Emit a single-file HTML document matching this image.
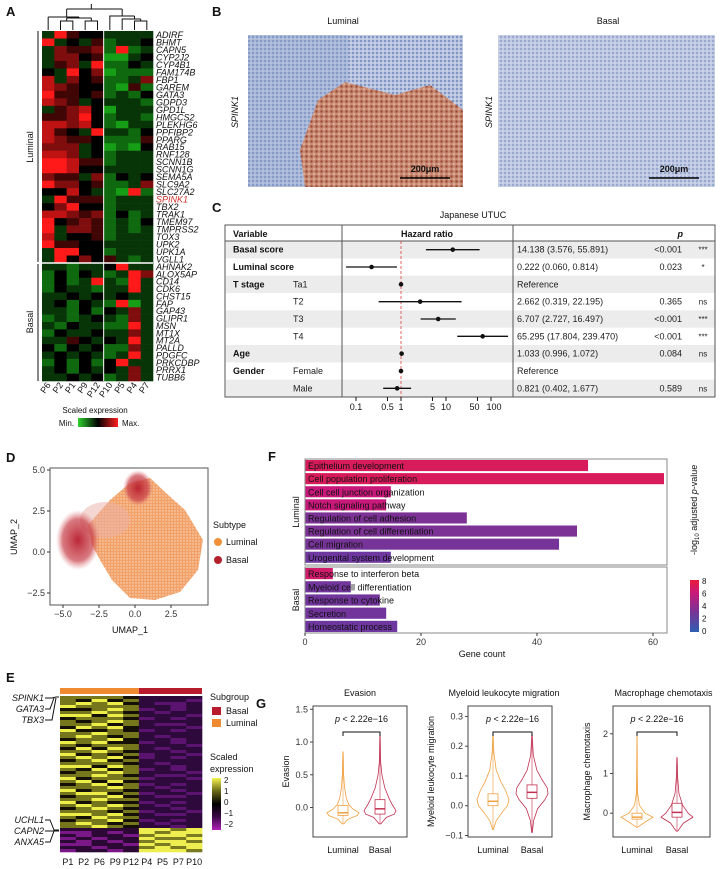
<!DOCTYPE html>
<html><head><meta charset="utf-8"><style>
body{margin:0;background:#fff}
svg{display:block;font-family:"Liberation Sans",Arial,sans-serif}
</style></head><body>
<svg id="fig" width="725" height="869" viewBox="0 0 725 869" xmlns="http://www.w3.org/2000/svg">
<defs>
<pattern id="dots" width="3" height="3" patternUnits="userSpaceOnUse"><circle cx="1" cy="1" r="0.7" fill="#fff" opacity="0.6"/></pattern>
<pattern id="tissue" width="4" height="4" patternUnits="userSpaceOnUse"><rect width="4" height="4" fill="#b8c4de"/><circle cx="1" cy="1" r="1" fill="#6f86bd"/><circle cx="3" cy="3" r="0.8" fill="#d8def0"/></pattern>
<pattern id="brown" width="5" height="5" patternUnits="userSpaceOnUse"><rect width="5" height="5" fill="#c98a72"/><circle cx="1.5" cy="1.5" r="1.2" fill="#9a4a38"/><circle cx="4" cy="4" r="0.8" fill="#ecd2c4"/></pattern>
<linearGradient id="gA" x1="0" x2="1"><stop offset="0" stop-color="#2fd12f"/><stop offset="0.5" stop-color="#000"/><stop offset="1" stop-color="#ff2020"/></linearGradient>
<linearGradient id="gF" x1="0" y1="1" x2="0" y2="0"><stop offset="0" stop-color="#2f5fb0"/><stop offset="0.4" stop-color="#7b3294"/><stop offset="0.75" stop-color="#c8197a"/><stop offset="1" stop-color="#e81c3a"/></linearGradient>
<linearGradient id="gE" x1="0" y1="1" x2="0" y2="0"><stop offset="0" stop-color="#b020b8"/><stop offset="0.25" stop-color="#3a0a45"/><stop offset="0.5" stop-color="#000"/><stop offset="0.75" stop-color="#6a6a18"/><stop offset="1" stop-color="#f4f450"/></linearGradient>
<radialGradient id="gRed" ><stop offset="0" stop-color="#b81c2c" stop-opacity="0.95"/><stop offset="0.7" stop-color="#c8404a" stop-opacity="0.7"/><stop offset="1" stop-color="#e08080" stop-opacity="0"/></radialGradient>
</defs>
<g id="root"></g>
</svg>
<script>
// ---------- DATA ----------
const aColumns=["P6","P2","P1","P9","P12","P10","P5","P4","P7"];
const aGenesLum=["ADIRF","BHMT","CAPN5","CYP2J2","CYP4B1","FAM174B","FBP1","GAREM","GATA3","GDPD3","GPD1L","HMGCS2","PLEKHG6","PPFIBP2","PPARG","RAB15","RNF128","SCNN1B","SCNN1G","SEMA5A","SLC9A2","SLC27A2","SPINK1","TBX2","TRAK1","TMEM97","TMPRSS2","TOX3","UPK2","UPK1A","VGLL1"];
const aGenesBas=["AHNAK2","ALOX5AP","CD14","CDK6","CHST15","FAP","GAP43","GLIPR1","MSN","MT1X","MT2A","PALLD","PDGFC","PRKCDBP","PRRX1","TUBB6"];
const aValsLum=["385443333","834352334","365562823","366451134","356382243","438461222","736452236","765442152","855452324","765343332","356741333","556842332","776742133","754383324","765542225","666341214","776342333","887552333","887443333","655362434","866452236","447432182","385552333","468442333","776562423","845652324","836652323","734452333","855443333","388442333","384645323"];
const aValsBas=["332334833","242432386","242383283","243323383","334343433","342432813","332424363","232343263","324332283","243343363","335434383","424342263","343432383","242424833","342434363","334342363"];
const eColumns=["P1","P2","P6","P9","P12","P4","P5","P7","P10"];
const eVals=["333321111","324231110","343421001","433331101","223430101","334321011","442431110","233320101","323431111","334231001","243421110","422320101","334331111","343231011","233421101","434220101","323331110","242431011","334321101","423230110","343420101","234231111","333321011","442431101","324230101","233431110","334321001","423330110","342421111","234230101","333431011","423321101","344230110","233421001","334331111","423220101","343431011","234321101","333230110","443421001","324331111","233420101","343231011","334321101","111114434","001014344","101103443","010114334","101013443","001104344","110113434","011014443"];
const umapXTicks=[-5.0,-2.5,0.0,2.5];
const umapYTicks=[5.0,2.5,0.0,-2.5];
const fLabels=["Epithelium development","Cell population proliferation","Cell cell junction organization","Notch signaling pathway","Regulation of cell adhesion","Regulation of cell differentiation","Cell migration","Urogenital system development","Response to interferon beta","Myeloid cell differentiation","Response to cytokine","Secretion","Homeostatic process"];
const fCounts=[48.8,61.9,14.8,14,27.9,46.9,43.8,14.8,4.8,7.9,12.9,14,15.9];
const fLogP=[7,7,6,6,4.5,4.5,4,3,6.5,3.5,3.5,3.5,3];
const fTicks=[0,20,40,60];
const cVars=["Basal score","Luminal score","T stage","","","","Age","Gender",""];
const cSub=["","","Ta1","T2","T3","T4","","Female","Male"];
const cHR=[14.138,0.222,1,2.662,6.707,65.295,1.033,1,0.821];
const cLo=[3.576,0.060,null,0.319,2.727,17.804,0.996,null,0.402];
const cHi=[55.891,0.814,null,22.195,16.497,239.470,1.072,null,1.677];
const cText=["14.138 (3.576, 55.891)","0.222 (0.060, 0.814)","Reference","2.662 (0.319, 22.195)","6.707 (2.727, 16.497)","65.295 (17.804, 239.470)","1.033 (0.996, 1.072)","Reference","0.821 (0.402, 1.677)"];
const cP=["<0.001","0.023","","0.365","<0.001","<0.001","0.084","","0.589"];
const cSig=["***","*","","ns","***","***","ns","","ns"];
const cTicks=[0.1,0.5,1,5,10,50,100];
const cTickLabels=["0.1","0.5","1","5","10","50","100"];
const gTitles=["Evasion","Myeloid leukocyte migration","Macrophage chemotaxis"];
const gTicks=[[0.0,0.5,1.0,1.5],[-0.1,0.0,0.1,0.2,0.3],[0,1,2]];
const gTickLabels=[["0.0","0.5","1.0","1.5"],["-0.1","0.0","0.1","0.2","0.3"],["0","1","2"]];
const gLumVals=[[-0.25,-0.18,-0.12,-0.08,-0.02,0.05,0.15,0.3,0.5,0.85],[-0.08,-0.05,-0.02,0,0.02,0.05,0.08,0.12,0.18,0.24],[-0.35,-0.2,-0.1,0,0.2,0.5,1,2]];
const gLumDens=[[0.05,0.3,0.9,1.0,0.6,0.35,0.2,0.1,0.04,0.01],[0.02,0.2,0.6,0.9,1.0,0.8,0.5,0.2,0.05,0.01],[0.05,0.6,1.0,0.5,0.15,0.04,0.02,0.005]];
const gBasVals=[[-0.25,-0.15,-0.1,-0.05,0.05,0.15,0.3,0.5,0.7,1.1],[-0.09,-0.05,-0.01,0.02,0.04,0.06,0.09,0.12,0.17,0.24],[-0.45,-0.25,-0.1,0,0.2,0.5,0.9,1.4]];
const gBasDens=[[0.05,0.4,0.9,1.0,0.75,0.55,0.3,0.12,0.04,0.01],[0.02,0.1,0.35,0.8,1.0,0.95,0.6,0.3,0.08,0.01],[0.05,0.4,1.0,0.7,0.35,0.12,0.04,0.01]];
const gLumBox=[[-0.12,-0.08,0.03],[0.0,0.015,0.04],[-0.15,-0.1,0.0]];
const gBasBox=[[-0.1,-0.02,0.12],[0.025,0.045,0.07],[-0.1,0.02,0.25]];

// ---------- HELPERS ----------
const NS="http://www.w3.org/2000/svg";
const root=document.getElementById('root');
function mk(tag,attrs,parent,txt){const e=document.createElementNS(NS,tag);for(const k in attrs)e.setAttribute(k,attrs[k]);if(txt!==undefined)e.textContent=txt;(parent||root).appendChild(e);return e;}
function txt(x,y,s,size,opt,parent){opt=opt||{};const a={x:x,y:y,'font-size':size,fill:opt.fill||'#111'};if(opt.anchor)a['text-anchor']=opt.anchor;if(opt.weight)a['font-weight']=opt.weight;if(opt.style)a['font-style']=opt.style;if(opt.rot!==undefined)a.transform='rotate('+opt.rot+' '+x+' '+y+')';const t=mk('text',a,parent,s);return t;}

[["A",6,16],["B",212,16],["C",212,212],["D",6,462],["F",268,461],["E",6,682],["G",256,708]].forEach(p=>{const t=txt(p[1],p[2],p[0],13,{weight:'bold'});});

// ---------- PANEL A ----------
const gA=mk('g',{});


const aX0=42,aX1=153,aY0=31,aYmid=263,aY1=381;
const aColW=(aX1-aX0)/aColumns.length;
function aColor(d){const v=(d-4)/4;if(v<0){const g=Math.round(-v*210);return 'rgb('+Math.round(-v*30)+','+g+','+Math.round(-v*30)+')';}const r=Math.round(v*255);return 'rgb('+r+','+Math.round(v*25)+','+Math.round(v*25)+')';}
function aRows(vals,y0,y1,genes){const h=(y1-y0)/vals.length;vals.forEach((row,i)=>{for(let j=0;j<aColumns.length;j++){const r=mk('rect',{x:aX0+j*aColW,y:y0+i*h,width:aColW+0.3,height:h+0.3,fill:aColor(+row[j])},gA);}
const t=txt(156,y0+i*h+h-0.5,genes[i],9,{style:'italic',fill:genes[i]==="SPINK1"?'#d0332a':'#111'},gA);});}
aRows(aValsLum,aY0,aYmid,aGenesLum);
aRows(aValsBas,aYmid,aY1,aGenesBas);
mk('line',{x1:aX0+5*aColW,x2:aX0+5*aColW,y1:aY0,y2:aY1,stroke:'#fff','stroke-width':1},gA);
mk('line',{x1:aX0,x2:aX1,y1:aYmid,y2:aYmid,stroke:'#fff','stroke-width':1.5},gA);
mk('line',{x1:38,x2:38,y1:aY0,y2:aYmid-1,stroke:'#111'},gA);
mk('line',{x1:38,x2:38,y1:aYmid+1,y2:aY1,stroke:'#111'},gA);
txt(33,147,"Luminal",9,{anchor:'middle',rot:-90},gA);
txt(33,322,"Basal",9,{anchor:'middle',rot:-90},gA);
aColumns.forEach((c,j)=>{const x=aX0+j*aColW+aColW/2+3;const t=txt(x,385,c,9,{anchor:'end',rot:-55},gA);});
const cx=j=>aX0+j*aColW+aColW/2;
const dend=mk('path',{d:`M${cx(0)},30V17 M${cx(0)},17H${(cx(1)+cx(4))/2} M${cx(1)},30V21H${cx(2)}V30 M${(cx(1)+cx(2))/2},21V18 M${cx(3)},30V21H${cx(4)}V30 M${(cx(3)+cx(4))/2},21V18 M${(cx(1)+cx(2))/2},18H${(cx(3)+cx(4))/2} M${(cx(1)+cx(4))/2},18V17 M${(cx(0)+cx(3))/2},17V9 M${cx(5)},30V16H${(cx(6)+cx(8))/2} M${cx(6)},30V19H${(cx(7)+cx(8))/2} M${cx(7)},30V21H${cx(8)}V30 M${(cx(7)+cx(8))/2},21V19 M${(cx(6)+cx(8))/2},19V16 M${(cx(5)+cx(7))/2},16V9 M${(cx(0)+cx(3))/2},9H${(cx(5)+cx(7))/2} M${(cx(0)+cx(7))/2},9V4`,stroke:'#111',fill:'none','stroke-width':1},gA);

txt(95,413,"Scaled expression",8,{anchor:'middle'},gA);
const ab=mk('rect',{x:78,y:418,width:40,height:9,fill:'url(#gA)'},gA);
txt(74,426,"Min.",8,{anchor:'end'},gA);txt(122,426,"Max.",8,{},gA);

// ---------- PANEL B ----------
const gB=mk('g',{});
txt(343,24,"Luminal",9,{anchor:'middle'},gB);txt(608,24,"Basal",9,{anchor:'middle'},gB);
const im1=mk('rect',{x:248,y:35,width:215,height:152,fill:'url(#tissue)'},gB);
mk('rect',{x:248,y:35,width:100,height:152,fill:'#8fa3cf',opacity:0.35},gB);
const br=mk('path',{d:'M318,100 L345,82 L395,95 L430,85 L463,110 L463,187 L305,187 L300,150 Z',fill:'url(#brown)'},gB);
const im2=mk('rect',{x:498,y:35,width:217,height:152,fill:'url(#tissue)'},gB);
mk('rect',{x:498,y:35,width:217,height:152,fill:'#d0d8ec',opacity:0.3},gB);
txt(238,112,"SPINK1",9,{anchor:'middle',style:'italic',rot:-90},gB);txt(492,112,"SPINK1",9,{anchor:'middle',style:'italic',rot:-90},gB);
mk('line',{x1:400,x2:450,y1:178,y2:178,stroke:'#000','stroke-width':1.5},gB);txt(425,172,"200μm",9,{anchor:'middle',weight:'bold'},gB);
mk('line',{x1:649,x2:699,y1:178,y2:178,stroke:'#000','stroke-width':1.5},gB);txt(674,172,"200μm",9,{anchor:'middle',weight:'bold'},gB);

// ---------- PANEL C ----------
const gC=mk('g',{});
txt(473,218,"Japanese UTUC",9,{anchor:'middle'},gC);
const cTop=225,cHead=241,rowH=(397-241)/9;
cVars.forEach((v,i)=>{if(i%2===0)mk('rect',{x:226,y:cHead+i*rowH,width:489,height:rowH,fill:'#ececec'},gC);});
mk('rect',{x:225,y:cTop,width:490,height:172,fill:'none',stroke:'#555','stroke-width':1},gC);
mk('line',{x1:225,x2:715,y1:cHead,y2:cHead,stroke:'#555'},gC);
mk('line',{x1:342,x2:342,y1:cTop,y2:397,stroke:'#555'},gC);
mk('line',{x1:513,x2:513,y1:cTop,y2:397,stroke:'#555'},gC);
txt(233,237,"Variable",9,{weight:'bold'},gC);txt(427,237,"Hazard ratio",9,{weight:'bold',anchor:'middle'},gC);txt(683,237,"p",9,{weight:'bold',style:'italic',anchor:'end'},gC);
const cx0=401,cDec=45;
const xLog=v=>cx0+cDec*Math.log10(v);
mk('line',{x1:xLog(1),x2:xLog(1),y1:cHead,y2:397,stroke:'#e04040','stroke-dasharray':'3,2','stroke-width':0.8},gC);
cVars.forEach((v,i)=>{const y=cHead+i*rowH+rowH/2;
 if(v)txt(233,y+3,v,9,{weight:'bold'},gC);
 if(cSub[i])txt(293,y+3,cSub[i],9,{fill:'#222'},gC);
 if(cLo[i]!==null){const l=mk('line',{x1:xLog(cLo[i]),x2:xLog(cHi[i]),y1:y,y2:y,stroke:'#111','stroke-width':1.3},gC);}
 const p=mk('circle',{cx:xLog(cHR[i]),cy:y,r:2.3,fill:'#111'},gC);
 txt(517,y+3,cText[i],9,{fill:'#222'},gC);
 if(cP[i])txt(682,y+3,cP[i],9,{anchor:'end',fill:'#222'},gC);
 if(cSig[i])txt(703,y+3,cSig[i],8,{anchor:'middle',fill:'#222'},gC);});
cTicks.forEach((t,i)=>{mk('line',{x1:xLog(t),x2:xLog(t),y1:397,y2:401,stroke:'#111'},gC);txt(xLog(t)+(t===50?-3:t===100?3:0),410,cTickLabels[i],9,{anchor:'middle'},gC);});

// ---------- PANEL D ----------
const gD=mk('g',{});
const ux=v=>135+14.4*v, uy=v=>552-16.4*v;
const bodyD='M88,525 L110,500 L130,483 L150,478 L165,492 L185,510 L203,540 L198,570 L180,592 L155,600 L130,598 L112,580 L100,560 L92,545 Z';
const body=mk('path',{d:bodyD,fill:'#f2a268'},gD);

mk('path',{d:bodyD,fill:'url(#dots)'},gD);
mk('ellipse',{cx:105,cy:520,rx:25,ry:18,fill:'#e9b0a8',opacity:0.5},gD);
const r1=mk('ellipse',{cx:78,cy:540,rx:22,ry:30,fill:'url(#gRed)'},gD);
mk('ellipse',{cx:138,cy:488,rx:15,ry:18,fill:'url(#gRed)'},gD);
mk('rect',{x:50,y:468,width:158,height:137,fill:'none',stroke:'#555'},gD);
umapXTicks.forEach(t=>{mk('line',{x1:ux(t),x2:ux(t),y1:605,y2:608,stroke:'#333'},gD);txt(ux(t),617,t.toFixed(1).replace('-','−'),9,{anchor:'middle',fill:'#333'},gD);});
umapYTicks.forEach(t=>{mk('line',{x1:47,x2:50,y1:uy(t),y2:uy(t),stroke:'#333'},gD);txt(45,uy(t)+3,t.toFixed(1).replace('-','−'),9,{anchor:'end',fill:'#333'},gD);});
txt(130,633,"UMAP_1",9,{anchor:'middle'},gD);txt(17,537,"UMAP_2",9,{anchor:'middle',rot:-90},gD);
txt(213,528,"Subtype",9,{},gD);
mk('circle',{cx:218,cy:542,r:4,fill:'#f0913a'},gD);txt(226,545,"Luminal",9,{},gD);
mk('circle',{cx:218,cy:560,r:4,fill:'#b4202c'},gD);txt(226,563,"Basal",9,{},gD);

// ---------- PANEL F ----------
const gF=mk('g',{});
const fx=v=>305+5.8*v;
function fCol(v){const stops=[[0,[47,95,176]],[3,[110,55,160]],[4.5,[123,50,148]],[6,[200,25,122]],[8,[232,28,58]]];for(let i=0;i<stops.length-1;i++){if(v<=stops[i+1][0]){const t=(v-stops[i][0])/(stops[i+1][0]-stops[i][0]);const c=stops[i][1].map((a,k)=>Math.round(a+t*(stops[i+1][1][k]-a)));return 'rgb('+c+')';}}return 'rgb(232,28,58)';}
const fRowH=13.1;
fLabels.forEach((l,i)=>{const y=i<8?459+i*fRowH:567+(i-8)*13.2;const h=i<8?fRowH:13.2;
 const b=mk('rect',{x:fx(0),y:y+1,width:fx(fCounts[i])-fx(0),height:h-2,fill:fCol(fLogP[i])},gF);
 txt(308,y+h-3,l,9,{fill:'#111'},gF);});
mk('rect',{x:305,y:459,width:362,height:106,fill:'none',stroke:'#888'},gF);
mk('rect',{x:305,y:567,width:362,height:66,fill:'none',stroke:'#888'},gF);
fTicks.forEach(t=>{mk('line',{x1:fx(t),x2:fx(t),y1:633,y2:636,stroke:'#333'},gF);txt(fx(t),645,String(t),9,{anchor:'middle',fill:'#333'},gF);});
txt(482,657,"Gene count",9,{anchor:'middle'},gF);
txt(299,512,"Luminal",9,{anchor:'middle',rot:-90},gF);txt(299,600,"Basal",9,{anchor:'middle',rot:-90},gF);
const fcb=mk('rect',{x:690,y:580,width:9,height:52,fill:'url(#gF)'},gF);
[8,6,4,2,0].forEach((v,i)=>txt(702,584+i*12.5,String(v),8,{},gF));
const ft=mk('text',{x:697,y:555,'font-size':9,transform:'rotate(-90 697 555)',fill:'#111'},gF);
ft.innerHTML='-log<tspan font-size="6" dy="2">10</tspan><tspan dy="-2"> adjusted </tspan><tspan font-style="italic">p</tspan>-value';

// ---------- PANEL E ----------
const gE=mk('g',{});
const eX0=60,eX1=202,eY0=696,eRowH=3;
const eColW=(eX1-eX0)/eColumns.length;
const eCols=["#7a1888","#2c0834","#141008","#76761c","#eeee48"];
const eColsR=["#5a1470","#2e0a3c","#1a0820","#7a7a20","#eeee50"];
mk('rect',{x:eX0,y:688,width:5*eColW,height:6,fill:'#f08a30'},gE);
mk('rect',{x:eX0+5*eColW,y:688,width:4*eColW,height:6,fill:'#b81c2c'},gE);
eVals.forEach((row,i)=>{for(let j=0;j<eColumns.length;j++){const d=+row[j];const c=mk('rect',{x:eX0+j*eColW,y:eY0+i*eRowH,width:eColW+0.3,height:eRowH+0.3,fill:(j<5?eCols:eColsR)[d]},gE);}});
eColumns.forEach((c,j)=>txt(eX0+j*eColW+eColW/2,865,c,9,{anchor:'middle'},gE));
[["SPINK1",698],["GATA3",709],["TBX3",720]].forEach(g=>{txt(44,g[1]+3,g[0],9,{anchor:'end',style:'italic'},gE);});
mk('path',{d:'M45,698H52L56,697H59 M45,709H50L54,698 M45,720H52L56,698',stroke:'#111',fill:'none'},gE);
[["UCHL1",820],["CAPN2",831],["ANXA5",842]].forEach(g=>txt(44,g[1]+3,g[0],9,{anchor:'end',style:'italic'},gE));
mk('path',{d:'M45,820H50L54,830H59 M45,831H59 M45,842H50L54,831',stroke:'#111',fill:'none'},gE);
txt(210,700,"Subgroup",9,{},gE);
mk('rect',{x:212,y:707,width:9,height:8,fill:'#b81c2c'},gE);txt(226,714,"Basal",9,{},gE);
mk('rect',{x:212,y:719,width:9,height:8,fill:'#f08a30'},gE);txt(226,726,"Luminal",9,{},gE);
txt(210,760,"Scaled",9,{},gE);txt(210,772,"expression",9,{},gE);
const ecb=mk('rect',{x:212,y:778,width:9,height:52,fill:'url(#gE)'},gE);
["2","1","0","−1","−2"].forEach((s,i)=>txt(224,783+i*11,s,8,{},gE));

// ---------- PANEL G ----------
const gBoxes=[{x0:313,x1:407,dom:[-0.45,1.55],lx:343,bx:380,yl:289},{x0:468,x1:552,dom:[-0.105,0.335],lx:493,bx:532,yl:434},{x0:613,x1:710,dom:[-0.6,2.7],lx:637,bx:677,yl:590}];
const gY0=706,gY1=837;
gBoxes.forEach((b,k)=>{const g=mk('g',{});
 const y=v=>gY1-(v-b.dom[0])/(b.dom[1]-b.dom[0])*(gY1-gY0);
 txt((b.x0+b.x1)/2-(k===1?6:k===2?-2:0),696,gTitles[k],9,{anchor:'middle'},g);
 mk('rect',{x:b.x0,y:gY0,width:b.x1-b.x0,height:gY1-gY0,fill:'none',stroke:'#444'},g);
 gTicks[k].forEach((t,i)=>{mk('line',{x1:b.x0-3,x2:b.x0,y1:y(t),y2:y(t),stroke:'#444'},g);txt(b.x0-5,y(t)+3,gTickLabels[k][i].replace('-','−'),9,{anchor:'end',fill:'#333'},g);});
 txt(b.yl,(gY0+gY1)/2,gTitles[k],9,{anchor:'middle',rot:-90},g);
 txt(b.lx,853,"Luminal",9,{anchor:'middle'},g);txt(b.bx,853,"Basal",9,{anchor:'middle'},g);
 function violin(cxp,vals,dens,box,col){let r='',l='';const W=16;vals.forEach((v,i)=>{r+=(i?'L':'M')+(cxp+dens[i]*W)+','+y(v);});for(let i=vals.length-1;i>=0;i--)l+='L'+(cxp-dens[i]*W)+','+y(vals[i]);
  const p=mk('path',{d:r+l+'Z',fill:'none',stroke:col,'stroke-width':0.8},g);
  mk('line',{x1:cxp,x2:cxp,y1:y(vals[0]),y2:y(vals[vals.length-1]),stroke:col,'stroke-width':0.6},g);
  const bx=mk('rect',{x:cxp-5,y:y(box[2]),width:10,height:y(box[0])-y(box[2]),fill:'#fff',stroke:col,'stroke-width':0.8},g);
  mk('line',{x1:cxp-5,x2:cxp+5,y1:y(box[1]),y2:y(box[1]),stroke:col,'stroke-width':1.5},g);}
 violin(b.lx,gLumVals[k],gLumDens[k],gLumBox[k],'#f0a040');
 violin(b.bx,gBasVals[k],gBasDens[k],gBasBox[k],'#c03050');
 mk('path',{d:`M${b.lx},736V732H${b.bx}V736`,stroke:'#111',fill:'none'},g);
 const pt=mk('text',{x:(b.lx+b.bx)/2,y:722,'font-size':9,'text-anchor':'middle',fill:'#111'},g);pt.innerHTML='<tspan font-style="italic">p</tspan> &lt; 2.22e−16';
});
</script>
</body></html>
